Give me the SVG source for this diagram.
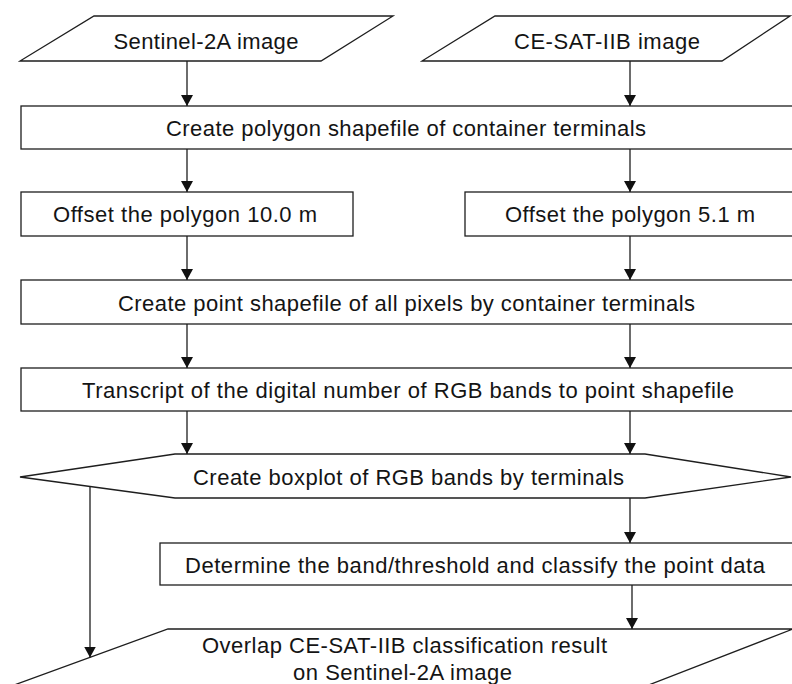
<svg xmlns="http://www.w3.org/2000/svg" width="792" height="684" viewBox="0 0 792 684">
<style>
.shape{fill:#fff;stroke:#1e1e1e;stroke-width:1.3}
.lbl{font-family:"Liberation Sans Narrow","Liberation Sans",Arial,sans-serif;font-size:22px;fill:#141414;text-anchor:middle}
.conn{stroke:#1e1e1e;stroke-width:1.3;fill:none;marker-end:url(#arr)}
</style>
<defs>
<marker id="arr" markerUnits="userSpaceOnUse" markerWidth="13" markerHeight="13" refX="11" refY="6" orient="auto">
<path d="M0,0 L11,6 L0,12 z" fill="#111"/>
</marker>
</defs>
<rect width="792" height="684" fill="#fff"/>
<g id="n1"><polygon class="shape" points="94,16 393,16 321,61 20,61"/><text class="lbl" x="206" y="48.5" textLength="185" lengthAdjust="spacing">Sentinel-2A image</text></g>
<g id="n2"><polygon class="shape" points="495,16 790,16 722,61 422,61"/><text class="lbl" x="607" y="48.5" textLength="186" lengthAdjust="spacing">CE-SAT-IIB image</text></g>
<g id="n3"><rect class="shape" x="21" y="106" width="775" height="43"/><text class="lbl" x="406" y="136" textLength="480" lengthAdjust="spacing">Create polygon shapefile of container terminals</text></g>
<g id="n4"><rect class="shape" x="21" y="192" width="332" height="44"/><text class="lbl" x="185" y="222" textLength="264" lengthAdjust="spacing">Offset the polygon 10.0 m</text></g>
<g id="n5"><rect class="shape" x="465" y="192" width="331" height="44"/><text class="lbl" x="630" y="222" textLength="250" lengthAdjust="spacing">Offset the polygon 5.1 m</text></g>
<g id="n6"><rect class="shape" x="21" y="280" width="775" height="44"/><text class="lbl" x="406.5" y="310.5" textLength="577" lengthAdjust="spacing">Create point shapefile of all pixels by container terminals</text></g>
<g id="n7"><rect class="shape" x="21" y="368" width="775" height="43"/><text class="lbl" x="408" y="398" textLength="652" lengthAdjust="spacing">Transcript of the digital number of RGB bands to point shapefile</text></g>
<g id="n8"><polygon class="shape" points="20,477 175,454 645,454 791,477 645,498 175,498"/><text class="lbl" x="408.5" y="485" textLength="431" lengthAdjust="spacing">Create boxplot of RGB bands by terminals</text></g>
<g id="n9"><rect class="shape" x="160" y="543" width="636" height="42"/><text class="lbl" x="475" y="572.5" textLength="580" lengthAdjust="spacing">Determine the band/threshold and classify the point data</text></g>
<g id="n10"><polygon class="shape" points="168,629 793,629 610,700 -27,700"/><text class="lbl" x="404.5" y="652.5" textLength="405" lengthAdjust="spacing">Overlap CE-SAT-IIB classification result</text><text class="lbl" x="402.5" y="680" textLength="219" lengthAdjust="spacing">on Sentinel-2A image</text></g>
<g id="connectors">
<line class="conn" x1="187" y1="61" x2="187" y2="106"/>
<line class="conn" x1="630" y1="61" x2="630" y2="106"/>
<line class="conn" x1="187" y1="149" x2="187" y2="192"/>
<line class="conn" x1="630" y1="149" x2="630" y2="192"/>
<line class="conn" x1="187" y1="236" x2="187" y2="280"/>
<line class="conn" x1="630" y1="236" x2="630" y2="280"/>
<line class="conn" x1="187" y1="324" x2="187" y2="368"/>
<line class="conn" x1="630" y1="324" x2="630" y2="368"/>
<line class="conn" x1="187" y1="411" x2="187" y2="454"/>
<line class="conn" x1="630" y1="411" x2="630" y2="454"/>
<line class="conn" x1="630" y1="498" x2="630" y2="543"/>
<line class="conn" x1="632" y1="585" x2="632" y2="629"/>
<line class="conn" x1="90" y1="486.5" x2="90" y2="657.5"/>
</g>
</svg>
